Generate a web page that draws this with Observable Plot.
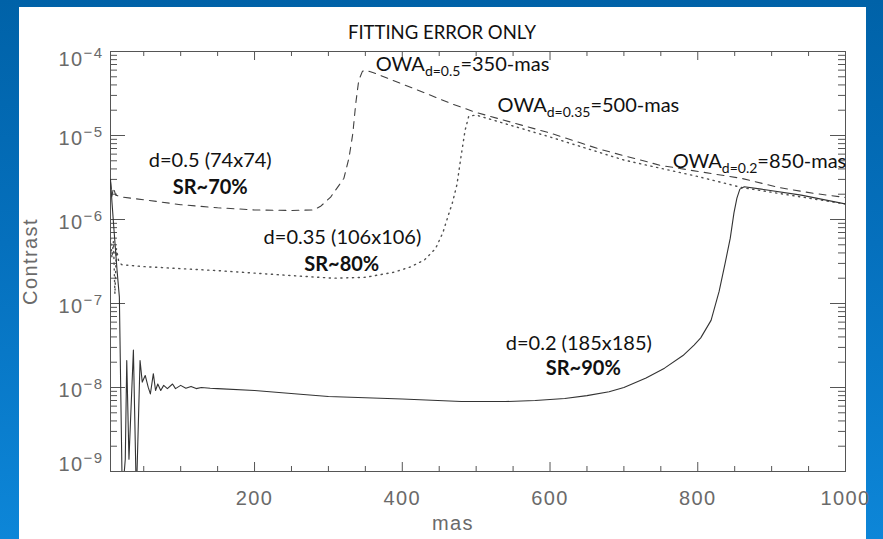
<!DOCTYPE html>
<html><head><meta charset="utf-8">
<script src="https://cdn.jsdelivr.net/npm/d3@7"></script>
<script src="https://cdn.jsdelivr.net/npm/@observablehq/plot@0.6"></script>
<style>
html,body{margin:0;padding:0;width:883px;height:539px;overflow:hidden;}
body{background:linear-gradient(180deg,#0062a8 0%,#0570bd 45%,#0d86d8 100%);position:relative;}
#panel{position:absolute;left:19px;top:7px;width:847px;height:532px;background:#fff;}
#chart{position:absolute;left:0;top:0;}
.spaced text{letter-spacing:1.4px;}
</style></head><body><div id="panel"></div><div id="chart"></div>
<script>
// ---- data ----
const masD02 = [5,7,10,14,17,21,25,27,30,36,40,45,48,52,56,59,63,66,69,73,77,82,89,93,100,107,114,121,128,140,150,200,262,300,400,480,540,580,620,650,680,700,730,755,780,795,804,818,829,837,844,849,853,857,863,886,940,1000];
const conD02 = [3.0e-6,1.6e-6,7e-7,2.4e-7,1.2e-7,5e-10,1.4e-9,2.1e-8,1.4e-9,2.8e-8,5e-10,2.1e-8,1.16e-8,1.39e-8,1.01e-8,8.4e-9,1.46e-8,9.2e-9,1.1e-8,9.2e-9,1.06e-8,9.7e-9,1.1e-8,9.7e-9,1.06e-8,9.8e-9,1.03e-8,9.7e-9,1.0e-8,9.8e-9,9.7e-9,9.2e-9,8.3e-9,7.8e-9,7.3e-9,6.8e-9,6.8e-9,7.0e-9,7.4e-9,8.0e-9,8.9e-9,1.0e-8,1.3e-8,1.7e-8,2.4e-8,3.2e-8,3.9e-8,6.3e-8,1.4e-7,3e-7,6e-7,1.2e-6,1.8e-6,2.3e-6,2.45e-6,2.3e-6,1.95e-6,1.53e-6];

const masD035 = [5,7,9,11,13,16,20,30,50,100,154,200,250,307,350,388,410,430,445,455,462,468,474,480,485,490,500,600,700,800,860,1000];
const conD035 = [6e-7,3.5e-7,5.5e-7,1.3e-7,4.5e-7,3.2e-7,2.9e-7,2.85e-7,2.75e-7,2.6e-7,2.45e-7,2.3e-7,2.15e-7,2.0e-7,2.05e-7,2.35e-7,2.7e-7,3.3e-7,4.5e-7,7e-7,1.1e-6,1.6e-6,2.6e-6,6e-6,1.15e-5,1.7e-5,1.75e-5,9.6e-6,5.1e-6,3.25e-6,2.4e-6,1.53e-6];

const masD05 = [5,7,9,12,20,50,100,150,200,250,280,290,303,315,321,328,333,337,341,346,350,361,429,466,500,600,669,750,860,910,958,1000];
const conD05 = [2.8e-6,1.9e-6,2.4e-6,1.95e-6,1.85e-6,1.72e-6,1.5e-6,1.38e-6,1.3e-6,1.28e-6,1.3e-6,1.45e-6,1.85e-6,2.6e-6,3.1e-6,5.5e-6,1.05e-5,2.4e-5,4.5e-5,5.8e-5,6.0e-5,5.6e-5,3.25e-5,2.4e-5,1.88e-5,1.07e-5,6.8e-6,4.4e-6,3.08e-6,2.4e-6,2.04e-6,1.83e-6];

const xTickLabels = [200,400,600,800,1000];
const xMinorTicks = d3.range(50, 1000, 50).filter(v => v % 200 !== 0);
const yTickExps = [-4,-5,-6,-7,-8,-9];
const yMinorTicks = d3.range(-9,-4).flatMap(e => d3.range(2,10).map(m => m * 10 ** e));

const curveLabels = [
  {text:"d=0.5 (74x74)", mas:140, c:5.0e-6, bold:false},
  {text:"SR~70%", mas:140, c:2.37e-6, bold:true},
  {text:"d=0.35 (106x106)", mas:319, c:6.1e-7, bold:false},
  {text:"SR~80%", mas:318, c:2.91e-7, bold:true},
  {text:"d=0.2 (185x185)", mas:639, c:3.34e-8, bold:false},
  {text:"SR~90%", mas:645, c:1.68e-8, bold:true}
];
const owaLabels = [
  {sub:"d=0.5", rest:"=350-mas", mas:364, c:6.9e-5},
  {sub:"d=0.35", rest:"=500-mas", mas:529, c:2.24e-5},
  {sub:"d=0.2", rest:"=850-mas", mas:766, c:4.9e-6}
];
const title = "FITTING ERROR ONLY";
const xLabel = "mas";
const yLabel = "Contrast";

// ---- build tables ----
const toRows = (m, c) => m.map((v, i) => ({mas: v, c: c[i]}));
const d02 = toRows(masD02, conD02), d035 = toRows(masD035, conD035), d05 = toRows(masD05, conD05);

const W = 883, H = 539, mL = 110, mR = 38, mT = 51, mB = 68;
const pw = W - mL - mR, ph = H - mT - mB;
const axisCol = "#555", labCol = "#6a6a6a";
const tickFont = "Liberation Sans, DejaVu Sans, sans-serif";

const yMid = yTickExps.filter(e => e !== -4 && e !== -9);
const ylab = (exps, dy) => Plot.text(exps, {
  y: e => 10 ** e, frameAnchor: "left", dx: -7, dy, textAnchor: "end",
  text: e => `10|${e}`, fontSize: 20, fill: labCol, fontFamily: tickFont, className: "ylab spaced"
});

const chart = Plot.plot({
  width: W, height: H,
  marginLeft: mL, marginRight: mR, marginTop: mT, marginBottom: mB,
  x: {type: "linear", domain: [5, 1000], axis: null},
  y: {type: "log", domain: [1e-9, 1e-4], axis: null},
  style: {fontFamily: "Lato, sans-serif", background: "transparent", overflow: "visible"},
  marks: [
    // inward ticks on all four sides
    Plot.ruleY(yTickExps.map(e => 10 ** e), {y: d => d, insetRight: pw - 15, stroke: axisCol}),
    Plot.ruleY(yTickExps.map(e => 10 ** e), {y: d => d, insetLeft: pw - 15, stroke: axisCol}),
    Plot.ruleY(yMinorTicks, {y: d => d, insetRight: pw - 7, stroke: axisCol}),
    Plot.ruleY(yMinorTicks, {y: d => d, insetLeft: pw - 7, stroke: axisCol}),
    Plot.ruleX(xTickLabels, {x: d => d, insetTop: ph - 9, stroke: axisCol}),
    Plot.ruleX(xTickLabels, {x: d => d, insetBottom: ph - 9, stroke: axisCol}),
    Plot.ruleX(xMinorTicks, {x: d => d, insetTop: ph - 5, stroke: axisCol}),
    Plot.ruleX(xMinorTicks, {x: d => d, insetBottom: ph - 5, stroke: axisCol}),
    Plot.frame({stroke: axisCol, strokeWidth: 1}),
    // curves
    Plot.line(d05, {x: "mas", y: "c", stroke: "#404040", strokeWidth: 1.1, strokeDasharray: "7,6", clip: true}),
    Plot.line(d035, {x: "mas", y: "c", stroke: "#505050", strokeWidth: 1.4, strokeDasharray: "1.2,4.6", clip: true}),
    Plot.line(d02, {x: "mas", y: "c", stroke: "#333", strokeWidth: 1.1, clip: true}),
    // tick labels
    Plot.text(xTickLabels, {x: d => d, frameAnchor: "bottom", lineAnchor: "top", dy: 19, text: d => String(d),
      fontSize: 20, fill: labCol, fontFamily: tickFont, className: "spaced"}),
    ylab(yMid, 3), ylab([-4], 8), ylab([-9], -7),
    // axis titles & title
    Plot.text([xLabel], {frameAnchor: "bottom", lineAnchor: "top", dy: 44, dx: -25, text: d => d,
      fontSize: 20, fill: labCol, fontFamily: tickFont, className: "spaced"}),
    Plot.text([yLabel], {frameAnchor: "left", textAnchor: "middle", rotate: -90, dx: -80, text: d => d,
      fontSize: 20, fill: labCol, fontFamily: tickFont, className: "spaced"}),
    Plot.text([title], {frameAnchor: "top", lineAnchor: "bottom", dy: -13, dx: -36, text: d => d,
      fontSize: 18.5, fill: "#111"}),
    // annotations
    Plot.text(curveLabels.filter(d => !d.bold), {x: "mas", y: "c", text: "text", fontSize: 20, fill: "#111"}),
    Plot.text(curveLabels.filter(d => d.bold), {x: "mas", y: "c", text: "text", fontSize: 20, fontWeight: "bold", fill: "#111"}),
    Plot.text(owaLabels, {x: "mas", y: "c", text: d => `${d.sub}|${d.rest}`, textAnchor: "start",
      fontSize: 20, fill: "#111", className: "owa"})
  ]
});

const svg = d3.select(chart);
svg.selectAll(".owa text").each(function() {
  const [sub, rest] = this.textContent.split("|");
  const t = d3.select(this); t.text("");
  t.append("tspan").text("OWA");
  t.append("tspan").attr("font-size", 14).attr("dy", 5).text(sub);
  t.append("tspan").attr("dy", -5).text(rest);
});
svg.selectAll(".ylab text").each(function() {
  const [base, exp] = this.textContent.split("|");
  const t = d3.select(this); t.text("");
  t.append("tspan").text(base);
  t.append("tspan").attr("font-size", 15).attr("dy", -8).text("\u2212" + String(Math.abs(+exp)));
});
document.getElementById("chart").appendChild(chart);
</script></body></html>
